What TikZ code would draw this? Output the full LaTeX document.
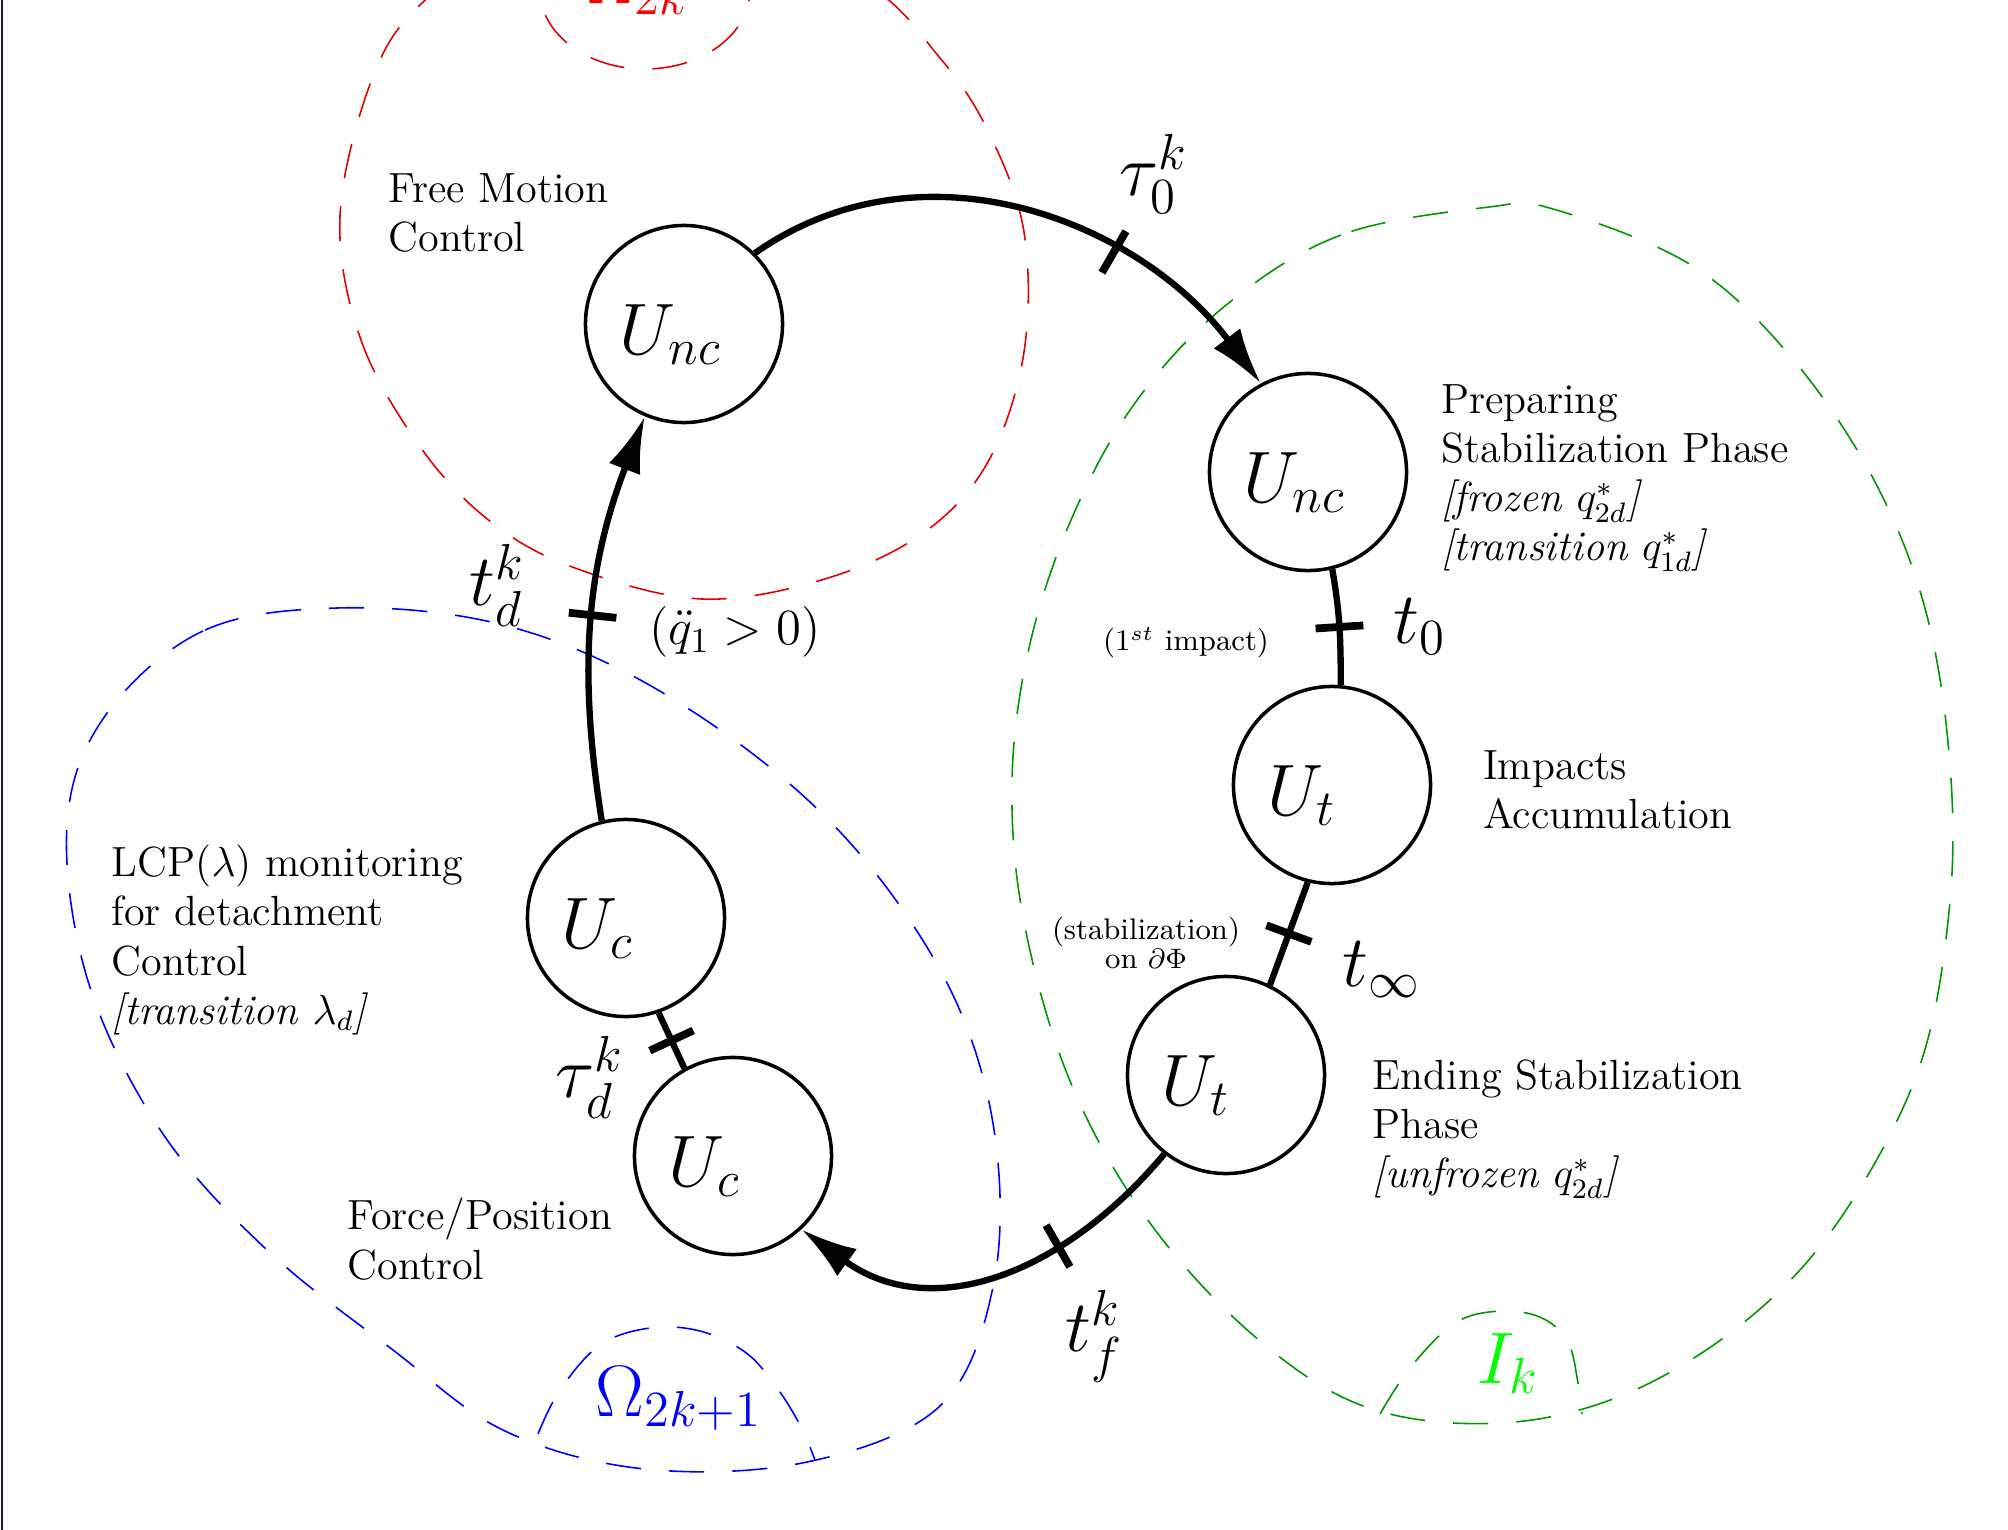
\documentclass[tikz,border=0pt]{standalone}
\usepackage{amsmath,amssymb}
\usetikzlibrary{arrows.meta,positioning}
\definecolor{zred}{RGB}{225,0,0}
\definecolor{zblue}{RGB}{0,0,255}
\definecolor{zgrn}{RGB}{0,150,0}
\definecolor{lgrn}{RGB}{0,255,0}
\definecolor{frame}{RGB}{30,20,80}
\newcommand{\tk}{\rule[-6.8pt]{2.2pt}{13.6pt}}

\begin{document}
\begin{tikzpicture}[x=0.01cm, y=0.01cm, line join=round,
  st/.style={circle,draw,line width=1pt,minimum size=1.97cm,inner sep=0pt,
    text height=0.6cm,text depth=0pt,font=\fontsize{22.5}{26}\selectfont,
    execute at begin node={\hbox to 1.28cm\bgroup},execute at end node={\hss\egroup}},
  lbl/.style={align=left,inner sep=0pt,font=\large},
  tl/.style={inner sep=0pt,font=\huge},
  note/.style={align=center,inner sep=0pt,font=\fontsize{8.5}{8.5}\selectfont},
  zl/.style={anchor=base west,inner sep=0pt,font=\huge},
  arr/.style={line width=1.8pt,-{Latex[length=16pt,width=9.5pt]}},
  lnk/.style={line width=1.8pt},
  tick/.style={sloped,inner sep=0pt,outer sep=0pt},
  zone/.style={line width=0.45pt,dash pattern=on 10pt off 8pt}]
\useasboundingbox (0,0) rectangle (2008,-1530);
\clip (0,0) rectangle (2008,-1530);
\draw[frame,line width=0.6pt] (2,0) -- (2,-1530);

% zones
\draw[zone,zred] plot[smooth cycle,tension=0.6] coordinates {(340,-216) (361,-340) (421,-448) (491,-522) (575,-568) (702,-599) (828,-578) (926,-531) (989,-460) (1024,-352) (1024,-232) (989,-133) (940,-58) (860,20) (686,88) (510,50) (421,-4) (372,-79)};
\draw[zone,zred] (645,10) ellipse [x radius=105, y radius=79];
\draw[zone,zblue] plot[smooth cycle,tension=0.6] coordinates {(337,-608) (203,-631) (105,-716) (67,-825) (88,-981) (161,-1131) (267,-1250) (393,-1350) (505,-1431) (645,-1469) (807,-1462) (940,-1406) (993,-1287) (996,-1144) (958,-1006) (877,-875) (772,-769) (631,-675) (491,-622)};
\draw[zone,zblue] plot[smooth,tension=0.6] coordinates {(538,-1434) (560,-1390) (600,-1345) (650,-1328) (700,-1331) (745,-1352) (775,-1385) (800,-1425) (815,-1460)};
\draw[zone,zgrn] plot[smooth cycle,tension=0.6] coordinates {(1489,-207) (1341,-235) (1225,-306) (1135,-403) (1071,-520) (1029,-648) (1012,-781) (1024,-922) (1070,-1081) (1147,-1219) (1253,-1335) (1366,-1407) (1501,-1423) (1628,-1393) (1748,-1319) (1840,-1219) (1918,-1071) (1949,-912) (1950,-765) (1926,-612) (1874,-480) (1791,-357) (1691,-265) (1553,-209)};
\draw[zone,zgrn] plot[smooth,tension=0.6] coordinates {(1380,-1414) (1410,-1368) (1455,-1323) (1501,-1311) (1542,-1318) (1568,-1342) (1578,-1383) (1582,-1414)};
\node[zl,text=red] (om2k) at (585,-4) {$\Omega_{2k}$};
\node[zl,text=zblue] (om2k1) at (595,-1416) {$\Omega_{2k+1}$};
\node[zl,text=lgrn] (ik) at (1477,-1383) {$I_k$};

% states
\node[st] (unc1) at (684,-324) {$U_{nc}$};
\node[st] (unc2) at (1308,-472) {$U_{nc}$};
\node[st] (ut1) at (1332,-785) {$U_t$};
\node[st] (ut2) at (1226,-1075) {$U_t$};
\node[st] (uc1) at (626,-918) {$U_c$};
\node[st] (uc2) at (733,-1156) {$U_c$};

% transitions
\draw[arr] (unc1.45) to[out=35,in=127] node[tick,pos=0.67] (tk1) {\tk} (unc2.118);
\draw[lnk] (unc2.-76) to[out=-80,in=90] node[tick,pos=0.5] (tk2) {\tk} (ut1.85);
\draw[lnk] (ut1.-104) -- node[tick,pos=0.5] (tk3) {\tk} (ut2.64);
\draw[arr] (ut2.-128) to[out=-130,in=-36,looseness=1.1] node[tick,pos=0.32] (tk4) {\tk} (uc2.-47);
\draw[lnk] (uc2.119) -- node[tick,pos=0.5] (tk5) {\tk} (uc1.-71);
\draw[arr] (uc1.104) to[out=99,in=-111] node[tick,pos=0.5] (tk6) {\tk} (unc1.-113);

% instants
\node[tl] (l-tau0) at (1154,-174) {$\tau_0^k$};
\node[tl] (l-t0) at (1420,-627) {$t_0$};
\node[tl] (l-tinf) at (1382,-970) {$t_\infty$};
\node[tl] (l-tf) at (1094,-1336) {$t_f^k$};
\node[tl] (l-taud) at (590,-1077) {$\tau_d^k$};
\node[tl] (l-td) at (497,-585) {$t_d^k$};
\node[inner sep=0pt,font=\Large] (l-qdd) at (735,-632) {$(\ddot{q}_1>0)$};
\node[note] (n-imp) at (1186,-643) {(1$^{st}$ impact)};
\node[note] (n-stab) at (1146,-943) {(stabilization)\\on $\partial\Phi$};

% phases
\node[lbl,anchor=west] (free) at (388,-213) {Free Motion\\Control};
\node[lbl,right=3.2mm of unc2,yshift=-0.6mm] (prep) {Preparing\\Stabilization Phase\\\textit{[frozen $q^*_{2d}$]}\\\textit{[transition $q^*_{1d}$]}};
\node[lbl,right=5mm of ut1,yshift=-0.5mm] (acc) {Impacts\\Accumulation};
\node[lbl,anchor=west] (endst) at (1372,-1129) {Ending Stabilization\\Phase\\\textit{[unfrozen $q^*_{2d}$]}};
\node[lbl,anchor=west] (lcp) at (111,-940) {LCP($\lambda$) monitoring\\for detachment\\Control\\\textit{[transition $\lambda_d$]}};
\node[lbl,anchor=west] (fpc) at (347,-1239) {Force/Position\\Control};
\end{tikzpicture}
\end{document}
